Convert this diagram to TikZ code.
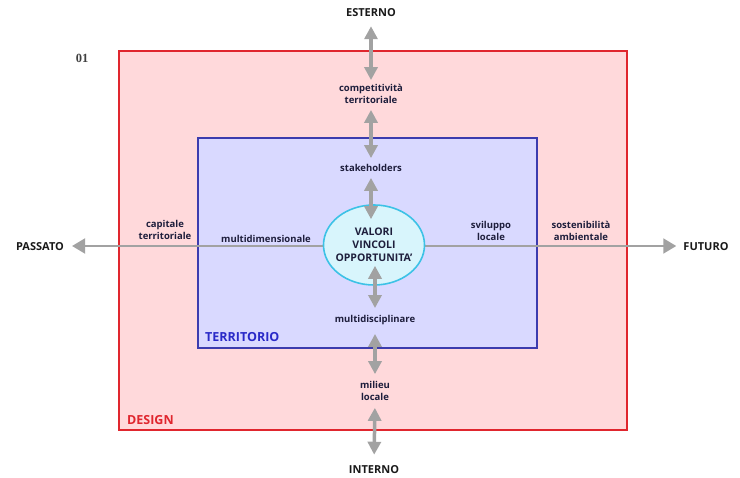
\documentclass[tikz,border=0pt]{standalone}
\usepackage{fontspec}
\setmainfont{Open Sans}
\newfontfamily\numfont{Liberation Serif}
\usetikzlibrary{arrows.meta,shapes.geometric,backgrounds}

\definecolor{designfill}{HTML}{FFD9DB}
\definecolor{designline}{HTML}{E0262E}
\definecolor{terrfill}{HTML}{D9D9FF}
\definecolor{terrline}{HTML}{3C3CAE}
\definecolor{terrtext}{HTML}{2A2AC8}
\definecolor{corefill}{HTML}{D8F5FC}
\definecolor{coreline}{HTML}{3DC2E6}
\definecolor{arrowgray}{HTML}{A2A2A2}
\definecolor{labeltext}{HTML}{1E1E3C}

\tikzset{
  axislabel/.style={font=\bfseries\fontsize{11}{13}\selectfont, text=black!90, inner sep=0pt},
  concept/.style={font=\bfseries\fontsize{9.5}{12}\selectfont, text=labeltext, align=center, inner sep=0pt},
  framelabel/.style={font=\bfseries\fontsize{12.5}{14}\selectfont, inner sep=0pt, anchor=west},
  core/.style={ellipse, draw=coreline, line width=1.6pt, fill=corefill,
    minimum width=101pt, minimum height=80pt, inner xsep=-7pt, inner ysep=-4pt, align=center,
    font=\bfseries\fontsize{10.5}{13}\selectfont, text=labeltext},
  linkarrow/.style={draw=arrowgray, line width=3.5pt,
    {Triangle[width=13pt,length=13pt]}-{Triangle[width=13pt,length=13pt]}},
  timearrow/.style={draw=arrowgray, line width=2pt,
    -{Triangle[width=15pt,length=13pt]}},
}

\begin{document}
\begin{tikzpicture}[x=1pt,y=-1pt]
  \useasboundingbox (0,0) rectangle (740,478);

  \node[font=\numfont\bfseries\fontsize{12.5}{14}\selectfont, text=black!75, inner sep=0pt] (num) at (82,58) {01};

  % axis ends
  \node[axislabel] (esterno) at (371,13) {ESTERNO};
  \node[axislabel] (interno) at (374,470) {INTERNO};
  \node[axislabel] (passato) at (40,247) {PASSATO};
  \node[axislabel] (futuro) at (706,247) {FUTURO};

  % concepts along the axes
  \node[concept] (compet) at (371,94) {competitività\\territoriale};
  \node[concept] (stake) at (371,168) {stakeholders};
  \node[concept] (multidis) at (375,320) {multidisciplinare};
  \node[concept] (milieu) at (375,391) {milieu\\locale};
  \node[concept] (capitale) at (165,230) {capitale\\territoriale};
  \node[concept] (multidim) at (266,239) {multidimensionale};
  \node[concept] (sviluppo) at (491,231) {sviluppo\\locale};
  \node[concept] (sosten) at (581,231) {sostenibilità\\ambientale};

  % core of the territory
  \node[core] (valori) at (374,245) {VALORI\\VINCOLI\\OPPORTUNITA'};

  \begin{scope}[on background layer]
    % nested frames
    \draw[designline, fill=designfill, line width=2pt] (119,51) rectangle (627,430);
    \draw[terrline, fill=terrfill, line width=1.5pt] (198,138) rectangle (537,348);
    % time axis
    \path (374,246) coordinate (axis);
    \draw[timearrow, shorten >=8pt] (valori.west |- axis) -- (passato.east |- axis);
    \draw[timearrow, shorten >=7pt] (valori.east |- axis) -- (futuro.west |- axis);
  \end{scope}

  \node[framelabel, text=designline] (design) at (127,420) {DESIGN};
  \node[framelabel, text=terrtext] (territorio) at (205,337) {TERRITORIO};

  % inside/outside axis
  \draw[linkarrow, shorten <=9pt, shorten >=4pt] (esterno.south) -- (compet.north);
  \draw[linkarrow, shorten <=6pt, shorten >=6pt] (compet.south) -- (stake.north);
  \draw[linkarrow, shorten <=6pt, shorten >=-15pt] (stake.south) -- (stake.south |- valori.north);
  \draw[linkarrow, shorten <=-20pt, shorten >=7pt] (multidis.north |- valori.south) -- (multidis.north);
  \draw[linkarrow, shorten <=9pt, shorten >=7pt] (multidis.south) -- (milieu.north);
  \draw[linkarrow, shorten <=7pt, shorten >=11pt] (milieu.south) -- (interno.north);
\end{tikzpicture}
\end{document}
